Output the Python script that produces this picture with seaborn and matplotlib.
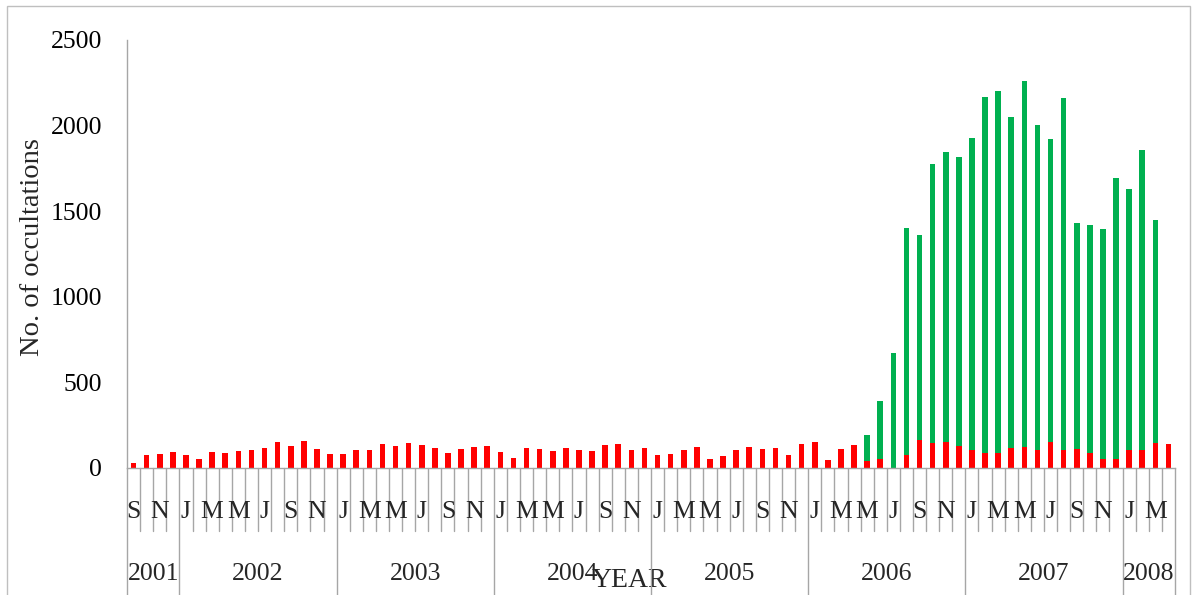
import numpy as np
import pandas as pd
import matplotlib.pyplot as plt
import matplotlib.transforms as mtransforms
from matplotlib.patches import Rectangle
import seaborn as sns

# Monthly categories, Sep 2001 .. Apr 2008
months = pd.date_range('2001-09-01', periods=80, freq='MS')
month_keys = [m.strftime('%Y-%m') for m in months]
month_letters = ['J', 'F', 'M', 'A', 'M', 'J', 'J', 'A', 'S', 'O', 'N', 'D']

# Red series (lower part of each bar)
champ = [27, 78, 80, 93, 76, 55, 93, 90, 99, 107,
         119, 150, 128, 156, 113, 84, 84, 105, 107, 140,
         130, 148, 136, 115, 88, 113, 123, 130, 93, 58,
         117, 113, 97, 117, 103, 101, 134, 142, 103, 115,
         78, 80, 107, 125, 55, 72, 107, 125, 111, 117,
         76, 140, 154, 47, 109, 136, 41, 55, 0, 74,
         162, 144, 154, 127, 103, 90, 86, 117, 121, 103,
         150, 103, 113, 90, 53, 53, 105, 105, 144, 138]

# Green series (stacked on top of the red one)
cosmic = [0, 0, 0, 0, 0, 0, 0, 0, 0, 0,
          0, 0, 0, 0, 0, 0, 0, 0, 0, 0,
          0, 0, 0, 0, 0, 0, 0, 0, 0, 0,
          0, 0, 0, 0, 0, 0, 0, 0, 0, 0,
          0, 0, 0, 0, 0, 0, 0, 0, 0, 0,
          0, 0, 0, 0, 0, 0, 154, 338, 672, 1326,
          1199, 1631, 1691, 1689, 1826, 2078, 2114, 1935, 2139, 1900,
          1773, 2058, 1318, 1329, 1343, 1641, 1524, 1752, 1304, 0]

df = pd.DataFrame({'month': month_keys, 'champ': champ, 'cosmic': cosmic})
df['total'] = df['champ'] + df['cosmic']

sns.set_style('white')
plt.rcParams['font.family'] = ['Liberation Serif', 'DejaVu Serif']

W, H = 1192, 595
fig = plt.figure(figsize=(W / 100, H / 100), dpi=100)
ax = fig.add_axes([127 / W, 1 - 468 / H, 1048 / W, 428 / H])

# stacked look: totals in green, red drawn over them
sns.barplot(data=df, x='month', y='total', order=month_keys, color='#00B050',
            saturation=1, width=0.42, errorbar=None, linewidth=0, ax=ax)
sns.barplot(data=df, x='month', y='champ', order=month_keys, color='#FF0000',
            saturation=1, width=0.42, errorbar=None, linewidth=0, ax=ax)

ax.set_xlim(-0.5, len(months) - 0.5)
ax.set_ylim(0, 2500)
ax.set_yticks(range(0, 2501, 500))
ax.tick_params(axis='y', direction='out', length=6, width=1, color='#a6a6a6',
               pad=12, labelsize=18.5, labelcolor='black')
ax.set_xticks(np.arange(len(months) + 1) - 0.5)
ax.set_xticklabels([])
ax.tick_params(axis='x', direction='out', length=5, width=1, color='#808080')
ax.set_ylabel('')
for s in ['top', 'right']:
    ax.spines[s].set_visible(False)
for s in ['left', 'bottom']:
    ax.spines[s].set_color('#a6a6a6')
    ax.spines[s].set_linewidth(1)

# multi-level category axis
trans = mtransforms.blended_transform_factory(ax.transData, ax.transAxes)
year_bounds = [0, len(months)] + [i for i, m in enumerate(months) if m.month == 1]
for k in range(len(months) + 1):
    bottom = -0.30 if k in year_bounds else -0.1465
    ax.plot([k - 0.5, k - 0.5], [0, bottom], transform=trans, color='#a6a6a6',
            lw=1, clip_on=False)

for i, m in enumerate(months):
    if m.month % 2 == 1:
        ax.text(i, -0.1175, month_letters[m.month - 1], transform=trans,
                ha='center', va='baseline', fontsize=18.5)

for yr in sorted(set(months.year)):
    idx = [i for i, m in enumerate(months) if m.year == yr]
    ax.text(np.mean(idx), -0.2617, str(yr), transform=trans,
            ha='center', va='baseline', fontsize=18.5)

ax.set_xlabel('YEAR', fontsize=20)
ax.xaxis.set_label_coords(0.479, -0.278)
ax.xaxis.label.set_va('baseline')

fig.text(33 / W, 1 - 247 / H, 'No. of occultations', rotation=90,
         ha='center', va='center', fontsize=20.5)

# light frame round the chart area
fig.patches.append(Rectangle((7 / W, -0.02), (1190 - 7) / W, 1 - 6 / H + 0.02,
                             transform=fig.transFigure, fill=False,
                             edgecolor='#bfbfbf', lw=1))

fig.savefig('out.png', dpi=100)
